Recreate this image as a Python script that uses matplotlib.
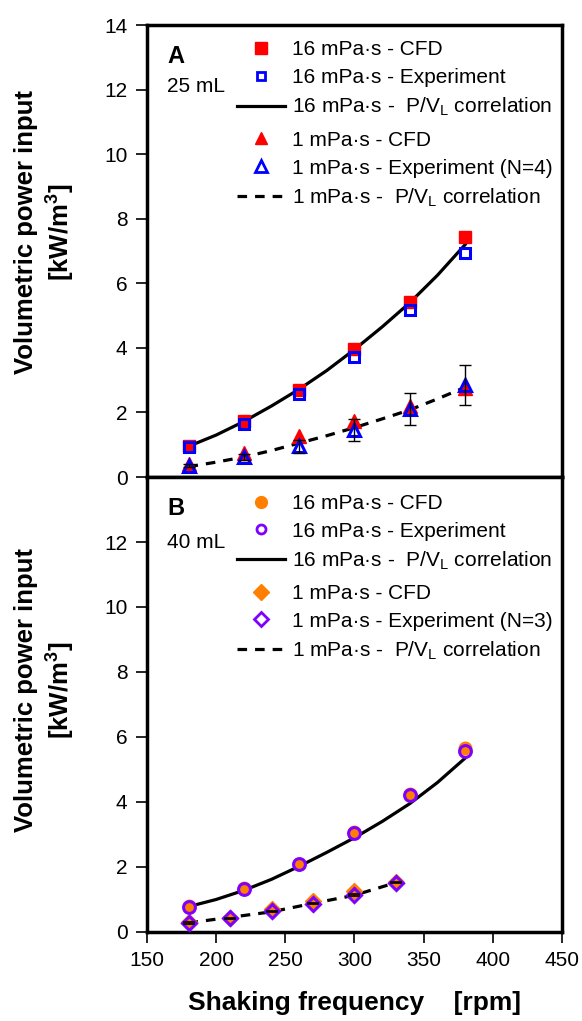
import matplotlib
matplotlib.use("Agg")
import matplotlib.pyplot as plt
from matplotlib.lines import Line2D
from matplotlib import font_manager

plt.rcParams['font.family'] = ['Liberation Sans', 'DejaVu Sans']
plt.rcParams['mathtext.default'] = 'regular'

# ---------------- data: panel A (25 mL) ----------------
rpm_a = [180, 220, 260, 300, 340, 380]
a16_cfd = [0.95, 1.72, 2.70, 3.97, 5.42, 7.42]
a16_exp = [0.93, 1.65, 2.58, 3.72, 5.17, 6.95]
a1_cfd = [0.40, 0.74, 1.27, 1.72, 2.20, 2.75]
a1_exp = [0.35, 0.62, 0.95, 1.45, 2.10, 2.85]
a1_err = [0.05, 0.10, 0.20, 0.34, 0.50, 0.63]

corr_rpm_a = [180, 200, 220, 240, 260, 280, 300, 320, 340, 360, 380]
a16_corr = [0.95, 1.30, 1.72, 2.20, 2.72, 3.30, 3.95, 4.65, 5.40, 6.25, 7.20]
a1_corr = [0.32, 0.46, 0.62, 0.82, 1.05, 1.28, 1.53, 1.80, 2.08, 2.42, 2.78]

# ---------------- data: panel B (40 mL) ----------------
rpm_b16 = [180, 220, 260, 300, 340, 380]
b16_cfd = [0.80, 1.35, 2.10, 3.07, 4.25, 5.65]
b16_exp = [0.78, 1.33, 2.08, 3.04, 4.22, 5.58]

rpm_b1 = [180, 210, 240, 270, 300, 330]
b1_cfd = [0.30, 0.43, 0.70, 0.95, 1.25, 1.53]
b1_exp = [0.28, 0.42, 0.64, 0.87, 1.14, 1.52]
b1_err = [0.02, 0.02, 0.02, 0.02, 0.02, 0.02]

corr_rpm_b16 = [180, 200, 220, 240, 260, 280, 300, 320, 340, 360, 380]
b16_corr = [0.78, 1.00, 1.28, 1.62, 2.02, 2.45, 2.90, 3.40, 3.95, 4.60, 5.35]
corr_rpm_b1 = [180, 210, 240, 270, 300, 330]
b1_corr = [0.28, 0.45, 0.62, 0.88, 1.13, 1.52]

xticks = [150, 200, 250, 300, 350, 400, 450]
yticks_a = [0, 2, 4, 6, 8, 10, 12, 14]
yticks_b = [0, 2, 4, 6, 8, 10, 12]

RED = '#FF0000'
BLUE = '#0000FF'
ORANGE = '#FF8000'
PURPLE = '#8000FF'

fig = plt.figure(figsize=(5.82, 10.21), dpi=100)
axA = fig.add_axes([0.2526, 0.5328, 0.7130, 0.4427])
axB = fig.add_axes([0.2526, 0.0872, 0.7130, 0.4456])

FS = 15
DASH = (3, 2.5)

names = {f.name for f in font_manager.fontManager.ttflist}
narrow = 'Liberation Sans Narrow' if 'Liberation Sans Narrow' in names else 'Liberation Sans'

def style(ax, yticks, show_x, ylab_y):
    ax.set_xlim(150, 450)
    ax.set_ylim(0, 14)
    ax.set_xticks(xticks)
    ax.set_yticks(yticks)
    for s in ax.spines.values():
        s.set_linewidth(2.5)
    ax.tick_params(axis='both', direction='out', length=8, width=1.2,
                   labelsize=FS, pad=6, top=False, right=False)
    if not show_x:
        ax.tick_params(axis='x', bottom=False, labelbottom=False)
    ax.set_ylabel('Volumetric power input\n[kW/m$^3$]', fontsize=18.5,
                  fontweight='bold', family=[narrow, 'DejaVu Sans'],
                  linespacing=1.3)
    ax.yaxis.set_label_coords(-0.168, ylab_y)

style(axA, yticks_a, False, 0.542)
style(axB, yticks_b, True, 0.532)
axB.set_xlabel('Shaking frequency    [rpm]', fontsize=19, fontweight='bold', labelpad=15)

def two_legends(ax, handles, labels, y1, y2):
    kw = dict(loc='upper left', frameon=False, fontsize=FS, handlelength=2.3,
              handletextpad=0.34, labelspacing=0.42, borderpad=0, borderaxespad=0)
    l1 = ax.legend(handles[:3], labels[:3], bbox_to_anchor=(0.217, y1), **kw)
    ax.add_artist(l1)
    ax.legend(handles[3:], labels[3:], bbox_to_anchor=(0.217, y2), **kw)

# ---------- Panel A ----------
axA.plot(corr_rpm_a, a16_corr, '-', color='black', lw=2.3, zorder=2)
axA.plot(corr_rpm_a, a1_corr, '--', color='black', lw=2.3, dashes=DASH, zorder=2)
axA.plot(rpm_a, a16_cfd, 's', color=RED, ms=8.5, mec=RED, zorder=3)
axA.plot(rpm_a, a16_exp, 's', mfc='none', mec=BLUE, mew=2.2, ms=7, zorder=4)
axA.plot(rpm_a, a1_cfd, '^', color=RED, ms=9.5, mec=RED, zorder=3)
axA.errorbar(rpm_a, a1_exp, yerr=a1_err, fmt='none', ecolor='black',
             elinewidth=1.0, capsize=4.5, capthick=1.0, zorder=5)
axA.plot(rpm_a, a1_exp, '^', mfc='none', mec=BLUE, mew=2.2, ms=8.5, zorder=4)

hA = [
    Line2D([], [], ls='none', marker='s', color=RED, ms=8),
    Line2D([], [], ls='none', marker='s', mfc='none', mec=BLUE, mew=2, ms=6),
    Line2D([], [], ls='-', color='black', lw=2.3),
    Line2D([], [], ls='none', marker='^', color=RED, ms=9),
    Line2D([], [], ls='none', marker='^', mfc='none', mec=BLUE, mew=2, ms=8),
    Line2D([], [], ls='--', color='black', lw=2.3, dashes=DASH),
]
labA = ['16 mPa·s - CFD', '16 mPa·s - Experiment', '16 mPa·s -  P/V$_L$ correlation',
        '1 mPa·s - CFD', '1 mPa·s - Experiment (N=4)', '1 mPa·s -  P/V$_L$ correlation']
two_legends(axA, hA, labA, 0.966, 0.766)
axA.text(0.05, 0.955, 'A', transform=axA.transAxes, fontsize=17, fontweight='bold',
         va='top', ha='left')
axA.text(0.047, 0.885, '25 mL', transform=axA.transAxes, fontsize=FS, va='top', ha='left')

# ---------- Panel B ----------
axB.plot(corr_rpm_b16, b16_corr, '-', color='black', lw=2.3, zorder=2)
axB.plot(corr_rpm_b1, b1_corr, '--', color='black', lw=2.3, dashes=DASH, zorder=2)
axB.plot(rpm_b16, b16_cfd, 'o', color=ORANGE, ms=9, mec=ORANGE, zorder=3)
axB.plot(rpm_b16, b16_exp, 'o', mfc='none', mec=PURPLE, mew=2.2, ms=8.5, zorder=4)
axB.plot(rpm_b1, b1_cfd, 'D', color=ORANGE, ms=8.5, mec=ORANGE, zorder=3)
axB.plot(rpm_b1, b1_exp, 'D', mfc='none', mec=PURPLE, mew=2.2, ms=7.5, zorder=4)
axB.errorbar(rpm_b1, b1_exp, yerr=b1_err, fmt='none', ecolor='black',
             elinewidth=1.0, capsize=4.5, capthick=1.2, zorder=5)

hB = [
    Line2D([], [], ls='none', marker='o', color=ORANGE, ms=8.5),
    Line2D([], [], ls='none', marker='o', mfc='none', mec=PURPLE, mew=2, ms=6.5),
    Line2D([], [], ls='-', color='black', lw=2.3),
    Line2D([], [], ls='none', marker='D', color=ORANGE, ms=8),
    Line2D([], [], ls='none', marker='D', mfc='none', mec=PURPLE, mew=2, ms=7),
    Line2D([], [], ls='--', color='black', lw=2.3, dashes=DASH),
]
labB = ['16 mPa·s - CFD', '16 mPa·s - Experiment', '16 mPa·s -  P/V$_L$ correlation',
        '1 mPa·s - CFD', '1 mPa·s - Experiment (N=3)', '1 mPa·s -  P/V$_L$ correlation']
two_legends(axB, hB, labB, 0.963, 0.765)
axB.text(0.05, 0.957, 'B', transform=axB.transAxes, fontsize=17, fontweight='bold',
         va='top', ha='left')
axB.text(0.047, 0.878, '40 mL', transform=axB.transAxes, fontsize=FS, va='top', ha='left')

fig.savefig('out.png', dpi=100)
